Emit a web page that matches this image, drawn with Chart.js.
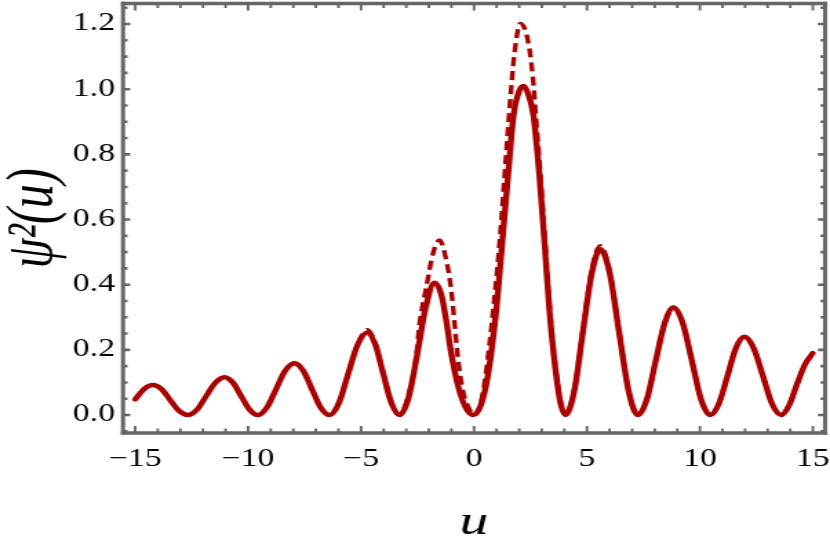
<!DOCTYPE html>
<html><head><meta charset="utf-8">
<script src="https://cdn.jsdelivr.net/npm/chart.js@4/dist/chart.umd.min.js"></script>
<style>html,body{margin:0;padding:0;background:#fff;overflow:hidden}
#probe{position:absolute;left:-1000px;top:0;font-family:'Liberation Serif';}
#probe i{font-style:italic}
#wrap{position:absolute;left:0;top:0;width:602px;height:556px;transform:scaleX(1.37874);transform-origin:0 0;}
</style>
</head><body>
<div id="probe">0.2 −15 <i>ψ²(u)</i></div>
<div id="wrap"><canvas id="c" width="602" height="556" style="width:602px;height:556px;display:block"></canvas></div>
<script>
// ---- data ----
const solidU = [-15.00,-14.60,-14.22,-13.83,-13.45,-13.06,-12.67,-12.26,-11.86,-11.45,-11.04,-10.67,-10.31,-9.94,-9.57,-9.17,-8.76,-8.36,-7.95,-7.56,-7.18,-6.79,-6.40,-5.98,-5.57,-5.15,-4.73,-4.37,-4.02,-3.66,-3.30,-2.91,-2.53,-2.14,-1.75,-1.45,-1.23,-1.01,-0.67,-0.35,-0.03,0.30,0.61,0.98,1.25,1.50,1.75,2.00,2.19,2.40,2.63,2.90,3.12,3.34,3.64,3.85,4.05,4.44,4.82,5.21,5.59,6.01,6.42,6.84,7.25,7.65,8.04,8.44,8.83,9.24,9.65,10.05,10.46,10.84,11.22,11.59,11.97,12.38,12.79,13.19,13.60,13.95,14.30,14.65,15.00];
const solidPsi2 = [0.048,0.080,0.092,0.079,0.046,0.013,0.000,0.017,0.058,0.099,0.116,0.099,0.058,0.017,0.000,0.023,0.080,0.136,0.159,0.136,0.080,0.023,0.000,0.037,0.127,0.216,0.253,0.216,0.127,0.037,0.000,0.050,0.180,0.330,0.406,0.370,0.290,0.190,0.080,0.020,0.000,0.030,0.120,0.320,0.530,0.730,0.920,0.995,1.010,0.985,0.920,0.730,0.530,0.320,0.120,0.030,0.000,0.075,0.255,0.434,0.509,0.434,0.255,0.075,0.000,0.048,0.165,0.282,0.330,0.282,0.165,0.048,0.000,0.035,0.120,0.205,0.240,0.205,0.120,0.035,0.000,0.030,0.095,0.155,0.190];

const dashedU = [-15.00,-14.60,-14.22,-13.83,-13.45,-13.06,-12.67,-12.26,-11.86,-11.45,-11.04,-10.67,-10.31,-9.94,-9.57,-9.17,-8.76,-8.36,-7.95,-7.56,-7.18,-6.79,-6.40,-5.98,-5.57,-5.15,-4.73,-4.37,-4.02,-3.66,-3.30,-2.91,-2.56,-2.41,-2.12,-1.80,-1.53,-1.23,-1.01,-0.86,-0.72,-0.50,-0.22,0.02,0.39,0.69,0.91,1.13,1.35,1.57,1.79,2.06,2.38,2.60,2.75,2.90,3.12,3.34,3.64,3.85,4.05,4.44,4.82,5.21,5.59,6.01,6.42,6.84,7.25,7.65,8.04,8.44,8.83,9.24,9.65,10.05,10.46,10.84,11.22,11.59,11.97,12.38,12.79,13.19,13.60,13.95,14.30,14.65,15.00];
const dashedPsi2 = [0.048,0.080,0.092,0.079,0.046,0.013,0.000,0.017,0.058,0.099,0.116,0.099,0.058,0.017,0.000,0.023,0.080,0.136,0.159,0.136,0.080,0.023,0.000,0.037,0.127,0.218,0.262,0.220,0.130,0.040,0.000,0.060,0.180,0.280,0.390,0.500,0.537,0.476,0.384,0.281,0.179,0.077,0.020,0.000,0.067,0.220,0.363,0.527,0.731,0.936,1.110,1.202,1.151,1.040,0.905,0.775,0.560,0.340,0.130,0.035,0.000,0.078,0.262,0.445,0.520,0.440,0.258,0.076,0.000,0.048,0.165,0.282,0.330,0.282,0.165,0.048,0.000,0.035,0.120,0.205,0.240,0.205,0.120,0.035,0.000,0.030,0.095,0.155,0.190];

const xTickLabels = [-15,-10,-5,0,5,10,15];
const yTickLabels = [0.0,0.2,0.4,0.6,0.8,1.0,1.2];
const xMinorStep = 1;
const yMinorStep = 0.05;
const xTitle = 'u';
const yTitle = 'ψ²(u)';

// ---- chart (canvas is drawn 602 px wide and stretched horizontally, like the reference) ----
const lineColor = '#aa0000';
const frameColor = '#666666';
const serif = "'Liberation Serif', 'Times New Roman', serif";

function pts(us, vs){ return us.map((u,i)=>({x:u, y:vs[i]})); }
function range(a,b,s){ const r=[]; const n=Math.round((b-a)/s); for(let i=0;i<=n;i++) r.push(+(a+i*s).toFixed(4)); return r; }

const framePlugin = {
  id: 'frame',
  afterDatasetsDraw(chart){
    const {ctx, chartArea:a, scales:{x, y}} = chart;
    ctx.save();
    ctx.strokeStyle = frameColor;
    ctx.lineCap = 'butt';
    // x ticks (vertical marks) on bottom and top
    ctx.lineWidth = 1.9;
    ctx.beginPath();
    range(-15, 15, xMinorStep).forEach(v=>{
      const px = x.getPixelForValue(v);
      const major = xTickLabels.some(t=>Math.abs(t-v)<1e-6);
      const L = major ? 7 : 4.5;
      ctx.moveTo(px, a.bottom); ctx.lineTo(px, a.bottom - L);
      ctx.moveTo(px, a.top); ctx.lineTo(px, a.top + L);
    });
    ctx.stroke();
    // y ticks (horizontal marks) on left and right
    ctx.lineWidth = 2.6;
    ctx.beginPath();
    range(-0.05, 1.25, yMinorStep).forEach(v=>{
      const py = y.getPixelForValue(v);
      if (py < a.top + 1 || py > a.bottom - 1) return;
      const major = yTickLabels.some(t=>Math.abs(t-v)<1e-6);
      const L = major ? 5.2 : 3.3;
      ctx.moveTo(a.left, py); ctx.lineTo(a.left + L, py);
      ctx.moveTo(a.right, py); ctx.lineTo(a.right - L, py);
    });
    ctx.stroke();
    // frame
    const hv = 1.5, hh = 1.75;
    ctx.lineWidth = 3.5;
    ctx.beginPath();
    ctx.moveTo(a.left - hv, a.top); ctx.lineTo(a.right + hv, a.top);
    ctx.moveTo(a.left - hv, a.bottom); ctx.lineTo(a.right + hv, a.bottom);
    ctx.stroke();
    ctx.lineWidth = 3.0;
    ctx.beginPath();
    ctx.moveTo(a.left, a.top - hh); ctx.lineTo(a.left, a.bottom + hh);
    ctx.moveTo(a.right, a.top - hh); ctx.lineTo(a.right, a.bottom + hh);
    ctx.stroke();
    ctx.restore();
  }
};

function draw(){
new Chart(document.getElementById('c'), {
  type: 'line',
  data: {
    datasets: [
      { label: 'solid', data: pts(solidU, solidPsi2), borderColor: lineColor, borderWidth: 4.4,
        pointRadius: 0, fill: false, cubicInterpolationMode: 'monotone', borderCapStyle: 'round', borderJoinStyle: 'round' },
      { label: 'dashed', data: pts(dashedU, dashedPsi2), borderColor: lineColor, borderWidth: 3.4,
        borderDash: [9, 5], pointRadius: 0, fill: false, cubicInterpolationMode: 'monotone' }
    ]
  },
  options: {
    responsive: false,
    animation: false,
    devicePixelRatio: 1,
    layout: { padding: { left: 0, top: 3.5, right: 3.6, bottom: 0 } },
    plugins: { legend: { display: false }, tooltip: { enabled: false } },
    scales: {
      x: {
        type: 'linear', min: -15.54, max: 15.54,
        grid: { display: false, drawTicks: false }, border: { display: false },
        afterBuildTicks: s => { s.ticks = xTickLabels.map(v=>({value:v})); },
        afterFit: s => { s.height = 123; s.paddingLeft = 0; s.paddingRight = 0; },
        ticks: { color: '#000', padding: 12, maxRotation: 0, autoSkip: false,
          font: { family: serif, size: 24.5 },
          callback: v => v < 0 ? '\u2212' + Math.abs(v) : String(v) },
        title: { display: true, text: xTitle, color: '#000', padding: { top: 0, bottom: 8 },
          font: { family: serif, size: 42, style: 'italic' } }
      },
      y: {
        type: 'linear', min: -0.0552, max: 1.263,
        grid: { display: false, drawTicks: false }, border: { display: false },
        afterBuildTicks: s => { s.ticks = yTickLabels.map(v=>({value:v})); },
        afterFit: s => { s.width = 89.2; s.paddingTop = 0; s.paddingBottom = 0; },
        ticks: { color: '#000', padding: 5.8, autoSkip: false,
          font: { family: serif, size: 24.5 },
          callback: v => Number(v).toFixed(1) },
        title: { display: true, text: yTitle, color: '#000', padding: { top: 0, bottom: 0 },
          font: { family: serif, size: 48, style: 'italic', lineHeight: 1.06 } }
      }
    }
  },
  plugins: [framePlugin]
});
}
const fl = [document.fonts.load("24px 'Liberation Serif'"), document.fonts.load("italic 48px 'Liberation Serif'")];
Promise.all(fl).then(draw, draw);
</script>
</body></html>
